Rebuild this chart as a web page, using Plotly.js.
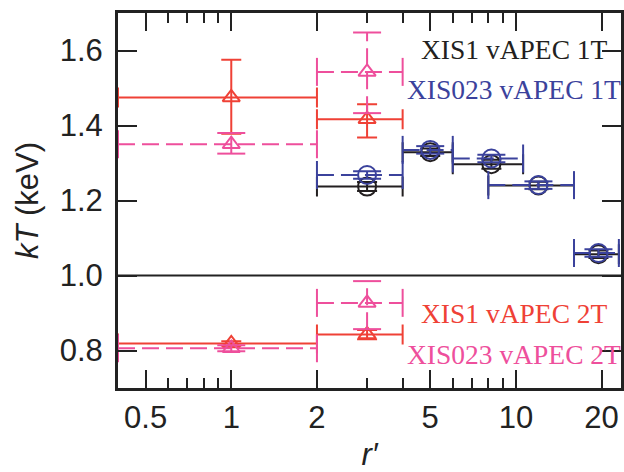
<!DOCTYPE html>
<html>
<head>
<meta charset="utf-8">
<script src="https://cdn.plot.ly/plotly-3.0.1.min.js"></script>
<style>html,body{margin:0;padding:0;background:#fff;}#chart{width:624px;height:472px;}</style>
</head>
<body>
<div id="chart"></div>
<script>
// ---- Data ----
// XIS1 vAPEC 1T (black circles, solid error bars)
const xis1_1T_x   = [3, 5, 8.2, 12, 19.5];
const xis1_1T_xlo = [2, 4, 6, 8, 16];
const xis1_1T_xhi = [4, 6, 10.6, 16, 23];
const xis1_1T_y   = [1.237, 1.329, 1.297, 1.240, 1.057];
const xis1_1T_ep  = [0.012, 0.010, 0.012, 0.010, 0.010];
const xis1_1T_em  = [0.012, 0.010, 0.012, 0.010, 0.010];

// XIS023 vAPEC 1T (blue circles, dashed error bars)
const xis023_1T_x   = [3, 5, 8.2, 12, 19.5];
const xis023_1T_xlo = [2, 4, 6, 8, 16];
const xis023_1T_xhi = [4, 6, 10.6, 16, 23];
const xis023_1T_y   = [1.268, 1.335, 1.312, 1.241, 1.060];
const xis023_1T_ep  = [0.010, 0.010, 0.010, 0.010, 0.010];
const xis023_1T_em  = [0.010, 0.010, 0.010, 0.010, 0.010];

// XIS1 vAPEC 2T (red triangles, solid error bars): high- and low-temperature components
const xis1_2T_x   = [1, 3, 1, 3];
const xis1_2T_xlo = [0.4, 2, 0.4, 2];
const xis1_2T_xhi = [2, 4, 2, 4];
const xis1_2T_y   = [1.475, 1.417, 0.819, 0.843];
const xis1_2T_ep  = [0.100, 0.040, 0.006, 0.012];
const xis1_2T_em  = [0.097, 0.049, 0.006, 0.013];

// XIS023 vAPEC 2T (pink triangles, dashed error bars)
const xis023_2T_x   = [1, 3, 1, 3];
const xis023_2T_xlo = [0.4, 2, 0.4, 2];
const xis023_2T_xhi = [2, 4, 2, 4];
const xis023_2T_y   = [1.350, 1.543, 0.806, 0.927];
const xis023_2T_ep  = [0.030, 0.105, 0.008, 0.058];
const xis023_2T_em  = [0.025, 0.110, 0.008, 0.070];

const xTickVals = [0.5, 1, 2, 5, 10, 20];
const xTickText = ['0.5', '1', '2', '5', '10', '20'];
const xMinorVals = [0.6, 0.7, 0.8, 0.9, 3, 4, 6, 7, 8, 9];
const yTickVals = [0.8, 1.0, 1.2, 1.4, 1.6];
const yTickText = ['0.8', '1.0', '1.2', '1.4', '1.6'];

// ---- Styles ----
const cBlack = '#231f20', cBlue = '#3b429c', cRed = '#ef4136', cPink = '#ee4f9c';
const DASH = '17px,7px';

function solidSeries(x, xlo, xhi, y, ep, em, color, symbol, size) {
  return {
    type: 'scatter', mode: 'markers', x: x, y: y, showlegend: false, cliponaxis: true,
    marker: {symbol: symbol, size: size, color: color, line: {color: color, width: 2}},
    error_x: {type: 'data', symmetric: false,
      array: x.map((v, i) => xhi[i] - v), arrayminus: x.map((v, i) => v - xlo[i]),
      color: color, thickness: 2, width: 10},
    error_y: {type: 'data', symmetric: false, array: ep, arrayminus: em,
      color: color, thickness: 2, width: 10}
  };
}

function dashedSeries(x, xlo, xhi, y, ep, em, color, symbol, size) {
  const hx = [], hy = [], vx = [], vy = [];
  const cxs = [], cys = [], eys = [], exs = [];
  x.forEach((v, i) => {
    hx.push(xlo[i], xhi[i], null); hy.push(y[i], y[i], null);
    vx.push(v, v, null); vy.push(y[i] - em[i], y[i] + ep[i], null);
    cxs.push(xlo[i], xhi[i]); cys.push(y[i], y[i]);
    exs.push(v, v); eys.push(y[i] - em[i], y[i] + ep[i]);
  });
  return [
    {type: 'scatter', mode: 'lines', x: hx, y: hy, showlegend: false, hoverinfo: 'skip',
      line: {color: color, width: 2, dash: DASH}},
    {type: 'scatter', mode: 'lines', x: vx, y: vy, showlegend: false, hoverinfo: 'skip',
      line: {color: color, width: 2, dash: DASH}},
    {type: 'scatter', mode: 'markers', x: cxs, y: cys, showlegend: false, hoverinfo: 'skip',
      marker: {symbol: 'line-ns-open', size: 20, color: color, line: {color: color, width: 2}}},
    {type: 'scatter', mode: 'markers', x: exs, y: eys, showlegend: false, hoverinfo: 'skip',
      marker: {symbol: 'line-ew-open', size: 20, color: color, line: {color: color, width: 2}}},
    {type: 'scatter', mode: 'markers', x: x, y: y, showlegend: false,
      marker: {symbol: symbol, size: size, color: color, line: {color: color, width: 2}}}
  ];
}

const data = [].concat(
  [solidSeries(xis1_1T_x, xis1_1T_xlo, xis1_1T_xhi, xis1_1T_y, xis1_1T_ep, xis1_1T_em, cBlack, 'circle-open', 18)],
  dashedSeries(xis023_1T_x, xis023_1T_xlo, xis023_1T_xhi, xis023_1T_y, xis023_1T_ep, xis023_1T_em, cBlue, 'circle-open', 18),
  [solidSeries(xis1_2T_x, xis1_2T_xlo, xis1_2T_xhi, xis1_2T_y, xis1_2T_ep, xis1_2T_em, cRed, 'triangle-up-open', 15)],
  dashedSeries(xis023_2T_x, xis023_2T_xlo, xis023_2T_xhi, xis023_2T_y, xis023_2T_ep, xis023_2T_em, cPink, 'triangle-up-open', 15)
);

const axisFontFamily = 'Liberation Sans, Arial, sans-serif';
const tickFont = {family: axisFontFamily, size: 31, color: '#222'};
const annFont = (c) => ({family: 'Liberation Serif, Times New Roman, serif', size: 27.5, color: c});

const layout = {
  width: 624, height: 472,
  margin: {l: 118, r: 3, t: 13, b: 84, pad: 0},
  paper_bgcolor: '#fff', plot_bgcolor: '#fff',
  showlegend: false,
  xaxis: {
    type: 'log', range: [Math.log10(0.4), Math.log10(23.4)],
    tickmode: 'array', tickvals: xTickVals, ticktext: xTickText,
    ticks: 'inside', ticklen: 18, tickwidth: 2, tickcolor: '#222',
    minor: {tickmode: 'array', tickvals: xMinorVals, ticks: 'inside', ticklen: 10, tickwidth: 2, tickcolor: '#222', showgrid: false},
    showline: true, linewidth: 3, linecolor: '#222', mirror: 'ticks',
    showgrid: false, zeroline: false, tickfont: tickFont, ticklabelstandoff: 0,
    title: {text: '<i>r′</i>', font: {family: axisFontFamily, size: 31, color: '#222'}, standoff: 26}
  },
  yaxis: {
    range: [0.7, 1.7],
    tickmode: 'array', tickvals: yTickVals, ticktext: yTickText,
    ticks: 'inside', ticklen: 19, tickwidth: 2, tickcolor: '#222',
    showline: true, linewidth: 3, linecolor: '#222', mirror: 'ticks',
    showgrid: false, zeroline: false, tickfont: tickFont, ticklabelstandoff: 6,
    title: {text: '<i>kT</i> (keV)', font: {family: axisFontFamily, size: 31, color: '#222'}, standoff: 12}
  },
  shapes: [{type: 'line', xref: 'paper', yref: 'y', x0: 0, x1: 1, y0: 1.0, y1: 1.0,
    line: {color: '#222', width: 2}}],
  annotations: [
    {xref: 'paper', yref: 'paper', x: 0.788, y: 0.903, text: 'XIS1 vAPEC 1T', showarrow: false, xanchor: 'center', yanchor: 'middle', font: annFont(cBlack)},
    {xref: 'paper', yref: 'paper', x: 0.788, y: 0.795, text: 'XIS023 vAPEC 1T', showarrow: false, xanchor: 'center', yanchor: 'middle', font: annFont(cBlue)},
    {xref: 'paper', yref: 'paper', x: 0.788, y: 0.198, text: 'XIS1 vAPEC 2T', showarrow: false, xanchor: 'center', yanchor: 'middle', font: annFont(cRed)},
    {xref: 'paper', yref: 'paper', x: 0.788, y: 0.089, text: 'XIS023 vAPEC 2T', showarrow: false, xanchor: 'center', yanchor: 'middle', font: annFont(cPink)}
  ]
};

Plotly.newPlot('chart', data, layout, {displayModeBar: false, staticPlot: true});
</script>
</body>
</html>
